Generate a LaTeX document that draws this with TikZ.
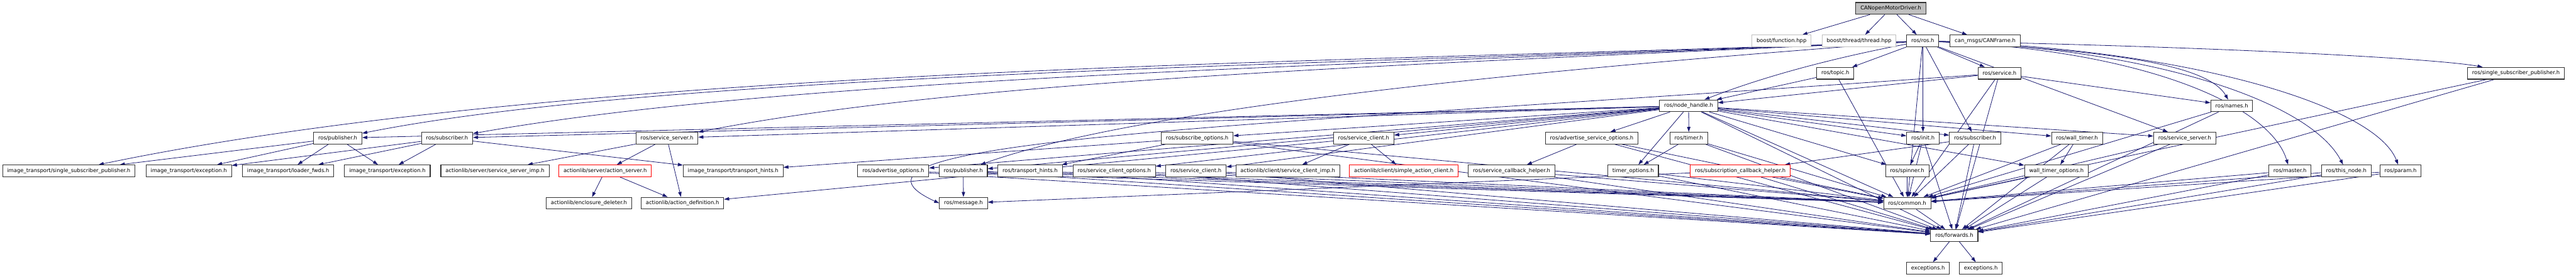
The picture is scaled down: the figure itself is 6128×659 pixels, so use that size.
\documentclass[tikz,border=0pt]{standalone}
\usepackage{fontspec}
\setmainfont{DejaVu Sans}
\usetikzlibrary{arrows.meta,backgrounds}
\definecolor{edgeblue}{RGB}{25,25,112}
\tikzset{
  file/.style={draw=black!80, fill=white, line width=1.6pt, inner xsep=11pt, inner ysep=0pt,
    minimum height=28pt, font=\fontsize{12.6}{15}\selectfont},
  ext/.style={file, draw=black!25},
  hot/.style={file, draw=red},
  top/.style={file, fill=black!25},
  inc/.style={draw=edgeblue, line width=1.2pt, -{Triangle[length=12pt,width=8pt]}}
}
\begin{document}
\begin{tikzpicture}[x=1pt,y=-1pt]
\useasboundingbox (0,0) rectangle (6128,659);
% rows 0-2
\node[top] (root) at (4498,20) {CANopenMotorDriver.h};
\node[ext] (bfun) at (4238,97.5) {boost/function.hpp};
\node[ext] (bthr) at (4422.5,97.5) {boost/thread/thread.hpp};
\node[file] (rosros) at (4574,97.5) {ros/ros.h};
\node[file] (cmsg) at (4722.5,97.5) {can\_msgs/CANFrame.h};
\node[file] (topic) at (4366,174.5) {ros/topic.h};
\node[file] (service) at (4756.5,174.5) {ros/service.h};
\node[file] (rssp) at (5985,174.5) {ros/single\_subscriber\_publisher.h};
% row 3
\node[file] (nh) at (4017,252) {ros/node\_handle.h};
\node[file] (names) at (5309,252) {ros/names.h};
% row 4
\node[file] (pubA) at (803.5,329) {ros/publisher.h};
\node[file] (subA) at (1063.5,329) {ros/subscriber.h};
\node[file] (ssA) at (1586.5,329) {ros/service\_server.h};
\node[file] (subopt) at (2848,329) {ros/subscribe\_options.h};
\node[file] (scA) at (3244,329) {ros/service\_client.h};
\node[file] (asopt) at (3786.5,329) {ros/advertise\_service\_options.h};
\node[file] (timer) at (4017.5,329) {ros/timer.h};
\node[file] (init) at (4574.5,329) {ros/init.h};
\node[file] (subB) at (4698.5,329) {ros/subscriber.h};
\node[file] (wtimer) at (4941,329) {ros/wall\_timer.h};
\node[file] (ssB) at (5197,329) {ros/service\_server.h};
% row 5
\node[file] (issp) at (163.5,407) {image\_transport/single\_subscriber\_publisher.h};
\node[file] (excA) at (449,407) {image\_transport/exception.h};
\node[file] (ldr) at (685.5,407) {image\_transport/loader\_fwds.h};
\node[file] (excB) at (921.5,407) {image\_transport/exception.h};
\node[file] (ssimp) at (1177.5,407) {actionlib/server/service\_server\_imp.h};
\node[hot] (asrv) at (1439.5,407) {actionlib/server/action\_server.h};
\node[file] (ithints) at (1744,407) {image\_transport/transport\_hints.h};
\node[file] (advopt) at (2125,407) {ros/advertise\_options.h};
\node[file] (pubB) at (2291.5,407) {ros/publisher.h};
\node[file] (rthints) at (2450.5,407) {ros/transport\_hints.h};
\node[file] (scopt) at (2650.5,407) {ros/service\_client\_options.h};
\node[file] (scB) at (2845,407) {ros/service\_client.h};
\node[file] (scimp) at (3063.5,407) {actionlib/client/service\_client\_imp.h};
\node[hot] (sac) at (3339.5,407) {actionlib/client/simple\_action\_client.h};
\node[file] (schelp) at (3596,407) {ros/service\_callback\_helper.h};
\node[file] (topt) at (3885,407) {timer\_options.h};
\node[hot] (subcb) at (4140,407) {ros/subscription\_callback\_helper.h};
\node[file] (spinner) at (4537,407) {ros/spinner.h};
\node[file] (wtopt) at (4892,407) {wall\_timer\_options.h};
\node[file] (master) at (5447.5,407) {ros/master.h};
\node[file] (thisnode) at (5581.5,407) {ros/this\_node.h};
\node[file] (param) at (5710.5,407) {ros/param.h};
% rows 6-8
\node[file] (encl) at (1401,484) {actionlib/enclosure\_deleter.h};
\node[file] (adef) at (1623.5,484) {actionlib/action\_definition.h};
\node[file] (msg) at (2292,484) {ros/message.h};
\node[file] (common) at (4537,484) {ros/common.h};
\node[file] (fwd) at (4649,561) {ros/forwards.h};
\node[file] (exc1) at (4586.5,639) {exceptions.h};
\node[file] (exc2) at (4712,639) {exceptions.h};
% includes
\begin{scope}[on background layer]
\path (root) edge[inc] (bfun) edge[inc] (bthr) edge[inc] (rosros) edge[inc] (cmsg);
\path (rosros) edge[inc] (topic) edge[inc] (service) edge[inc] (init) edge[inc] (subB)
  edge[inc] (ssB) edge[inc] (common);
% long ones from ros/ros.h
\draw[inc] (rosros) .. controls (3300,150) and (1400,150) .. (issp);
\draw[inc] (rosros) .. controls (3300,152) and (1600,170) .. (pubA);
\draw[inc] (rosros) .. controls (3300,154) and (1900,180) .. (subA);
\draw[inc] (rosros) .. controls (3300,156) and (2300,190) .. (ssA);
\draw[inc] (rosros) .. controls (3600,170) and (2700,260) .. (pubB);
\draw[inc] (rosros) .. controls (4300,150) and (4150,200) .. (nh);
\draw[inc] (rosros) .. controls (5000,120) and (5250,150) .. (names);
\draw[inc] (rosros) .. controls (5100,120) and (5400,250) .. (master);
\draw[inc] (rosros) .. controls (5150,118) and (5500,250) .. (thisnode);
\draw[inc] (rosros) .. controls (5200,116) and (5650,250) .. (param);
\draw[inc] (rosros) .. controls (5300,112) and (5800,140) .. (rssp);
\path (nh) edge[inc] (pubA) edge[inc] (subA) edge[inc] (ssA) edge[inc] (scA)
  edge[inc] (subopt) edge[inc] (advopt) edge[inc] (pubB) edge[inc] (scopt) edge[inc] (scB)
  edge[inc] (asopt) edge[inc] (timer) edge[inc] (topt) edge[inc] (spinner) edge[inc] (init)
  edge[inc] (subB) edge[inc] (wtimer) edge[inc] (wtopt) edge[inc] (ssB) edge[inc] (common)
  edge[inc] (fwd);
\path (topic) edge[inc] (nh) edge[inc] (common);
\path (service) edge[inc] (nh) edge[inc] (names) edge[inc] (common) edge[inc] (fwd);
% ros/message.h: one wraps round the left, one comes in level from the right
\draw[inc] (service) .. controls (3000,300) and (1900,330) .. (msg.west);
\path (subcb) edge[inc] (msg);
\path (pubA) edge[inc] (issp) edge[inc] (excA) edge[inc] (ldr) edge[inc] (excB);
\path (subA) edge[inc] (excA) edge[inc] (ldr) edge[inc] (excB) edge[inc] (ithints);
\path (ssA) edge[inc] (ssimp) edge[inc] (asrv) edge[inc] (adef);
\path (asrv) edge[inc] (encl) edge[inc] (adef);
\path (scA) edge[inc] (scimp) edge[inc] (sac) edge[inc] (adef);
\path (subopt) edge[inc] (rthints) edge[inc] (ithints) edge[inc] (common) edge[inc] (fwd);
\path (asopt) edge[inc] (schelp) edge[inc] (common) edge[inc] (fwd);
\path (timer) edge[inc] (topt) edge[inc] (common) edge[inc] (fwd);
\path (init) edge[inc] (spinner) edge[inc] (common) edge[inc] (fwd);
\path (subB) edge[inc] (subcb) edge[inc] (common) edge[inc] (fwd);
\path (wtimer) edge[inc] (wtopt) edge[inc] (common) edge[inc] (fwd);
\path (pubB) edge[inc] (msg) edge[inc] (common) edge[inc] (fwd);
\foreach \f in {advopt,rthints,scopt,scB,schelp,topt,subcb,wtopt,ssB,names,master,thisnode,param,rssp}
  \path (\f) edge[inc] (common) edge[inc] (fwd);
\path (spinner) edge[inc] (common);
\path (common) edge[inc] (fwd);
\path (fwd) edge[inc] (exc1) edge[inc] (exc2);
\end{scope}
\end{tikzpicture}
\end{document}
